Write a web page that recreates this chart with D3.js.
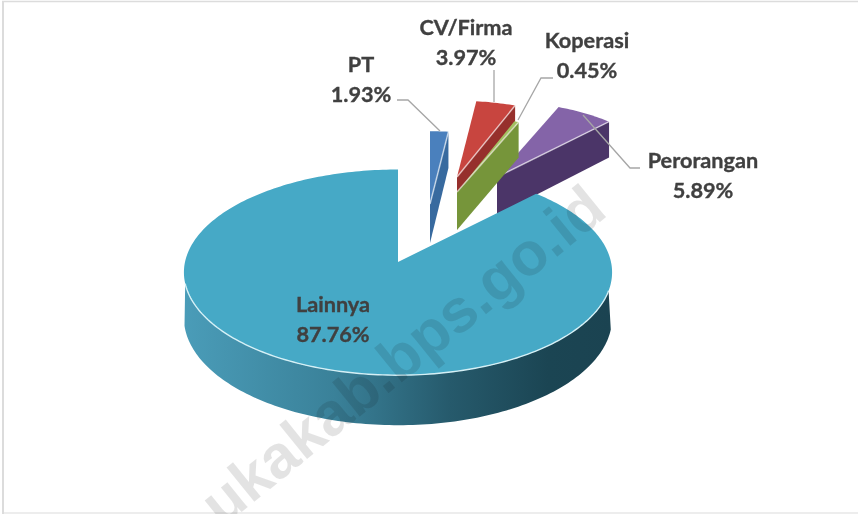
<!DOCTYPE html>
<html>
<head>
<meta charset="utf-8">
<script src="https://cdn.jsdelivr.net/npm/d3@7"></script>
<style>
  html, body { margin: 0; padding: 0; background: #fff; }
  svg { display: block; }
  text { font-family: Lato, "Open Sans", sans-serif; }
</style>
</head>
<body>
<svg width="858" height="514"></svg>
<script>
var categories = ["PT", "CV/Firma", "Koperasi", "Perorangan", "Lainnya"];
var values = [1.93, 3.97, 0.45, 5.89, 87.76];
var valueLabels = ["1.93%", "3.97%", "0.45%", "5.89%", "87.76%"];

// warna: permukaan atas dan dinding
var topColors = ["#4a80bd", "#c8453f", "#a3c061", "#8464a8", "#46a9c6"];
var wallColors = ["#386a9f", "#96302c", "#76953a", "#4b3568", "#2f7389"];

// geser irisan keluar dari pusat
var explodeX = [32, 59, 59, 99, 0];
var explodeY = [-58, -85, -70, -85, 0];
var radiusScale = [0.77, 0.81, 0.8, 0.8, 1];
var wallDepth = [39, 39, 38, 38, 45];

var labelX = [361, 466, 587, 703, 333];
var labelY = [72, 35, 48, 168, 312];
var leaders = [
    [[397, 100], [408, 100], [440, 131]],
    [[494, 70], [494, 102]],
    [[553, 78], [541, 78], [518, 120]],
    [[640, 168], [630, 168], [583, 115]]
];

var svg = d3.select("svg");
var cx = 398, cy = 262, R = 213;
var persp = 2120, tilt = 0.478;

// bingkai: kiri, atas, bawah
svg.append("g").selectAll("line")
    .data([[3, 1, 3, 514, 2], [2, 1.5, 858, 1.5, 1.5], [2, 513, 858, 513, 1.2]])
    .enter().append("line")
    .attr("x1", function(d) { return d[0]; })
    .attr("y1", function(d) { return d[1]; })
    .attr("x2", function(d) { return d[2]; })
    .attr("y2", function(d) { return d[3]; })
    .attr("stroke-width", function(d) { return d[4]; })
    .attr("stroke", "#dcdcdc");

// sudut + jari-jari -> koordinat layar (perspektif sederhana)
function project(angle, r, i, h) {
    var u = r * Math.sin(angle), v = r * Math.cos(angle);
    var s = 1 / (1 + v / persp);
    return [
        cx + explodeX[i] + u * s,
        cy + explodeY[i] - tilt * v * s + (h || 0) * s
    ];
}

var pie = d3.pie().sort(null).startAngle(0).endAngle(2 * Math.PI);
var slices = pie(values);
var line = d3.line();

function arcPoints(a0, a1, r, i, h) {
    var n = Math.max(2, Math.ceil(Math.abs(a1 - a0) / 0.02));
    return d3.range(n + 1).map(function(k) {
        return project(a0 + (a1 - a0) * k / n, r, i, h);
    });
}

var defs = svg.append("defs");
var grad = defs.append("linearGradient")
    .attr("id", "rim")
    .attr("gradientUnits", "userSpaceOnUse")
    .attr("x1", 185).attr("x2", 612).attr("y1", 0).attr("y2", 0);
grad.append("stop").attr("offset", 0).attr("stop-color", "#4a9cb8");
grad.append("stop").attr("offset", 0.35).attr("stop-color", "#3a8199");
grad.append("stop").attr("offset", 0.62).attr("stop-color", "#265a6c");
grad.append("stop").attr("offset", 0.85).attr("stop-color", "#1b4553");
grad.append("stop").attr("offset", 1).attr("stop-color", "#1b4351");

var pieG = svg.append("g");

// irisan yang keluar: dinding potongan lalu permukaan atas
function drawExploded(i) {
    var d = slices[i], r = R * radiusScale[i];
    var apex = project(0, 0, i);
    var edge = project(d.endAngle, r, i);
    var wall = [apex, edge, project(d.endAngle, r, i, wallDepth[i]), project(0, 0, i, wallDepth[i])];
    pieG.append("path")
        .attr("d", line(wall) + "Z")
        .attr("fill", wallColors[i]);
    var face = [apex].concat(arcPoints(d.startAngle, d.endAngle, r, i));
    pieG.append("path")
        .attr("d", line(face) + "Z")
        .attr("fill", topColors[i]);
    pieG.append("path")
        .attr("d", line([apex, edge]))
        .attr("fill", "none")
        .attr("stroke", "#fff")
        .attr("stroke-opacity", 0.6)
        .attr("stroke-width", 1.5);
}

[3, 0, 1, 2].forEach(drawExploded);

// irisan besar
var big = 4, bigR = R;
var rad = Math.PI / 180;
var rimTop = arcPoints(106 * rad, 258 * rad, bigR, big);
var rimBottom = arcPoints(260 * rad, 102 * rad, bigR, big, wallDepth[big]);
pieG.append("path")
    .attr("d", line(rimTop.concat(rimBottom)) + "Z")
    .attr("fill", "url(#rim)");
var bigFace = [project(0, 0, big)].concat(arcPoints(slices[big].startAngle, slices[big].endAngle, bigR, big));
pieG.append("path")
    .attr("d", line(bigFace) + "Z")
    .attr("fill", topColors[big]);
pieG.append("path")
    .attr("d", line(rimTop))
    .attr("fill", "none")
    .attr("stroke", "#d5f0f6")
    .attr("stroke-width", 1.4);

// garis penunjuk
svg.append("g").selectAll("path")
    .data(leaders)
    .enter().append("path")
    .attr("d", function(d) { return line(d); })
    .attr("fill", "none")
    .attr("stroke", "#a6a6a6")
    .attr("stroke-width", 1.3);

// label
var labels = svg.append("g").selectAll("text")
    .data(categories)
    .enter().append("text")
    .attr("text-anchor", "middle")
    .attr("font-size", 21.7)
    .attr("font-weight", 700)
    .attr("fill", "#404040")
    .attr("stroke", "#404040")
    .attr("stroke-width", 0.35)
    .attr("x", function(d, i) { return labelX[i]; })
    .attr("y", function(d, i) { return labelY[i]; });
labels.append("tspan")
    .text(function(d) { return d; });
labels.append("tspan")
    .attr("x", function(d, i) { return labelX[i]; })
    .attr("dy", 29.5)
    .text(function(d, i) { return valueLabels[i]; });

// watermark
svg.append("text")
    .attr("transform", "translate(222,528) rotate(-39)")
    .attr("font-size", 61)
    .attr("font-weight", 700)
    .style("font-family", "'Liberation Sans', sans-serif")
    .style("mix-blend-mode", "multiply")
    .attr("fill", "#000")
    .attr("fill-opacity", 0.11)
    .attr("stroke", "#000")
    .attr("stroke-opacity", 0)
    .text("ukakab.bps.go.id");
</script>
</body>
</html>
